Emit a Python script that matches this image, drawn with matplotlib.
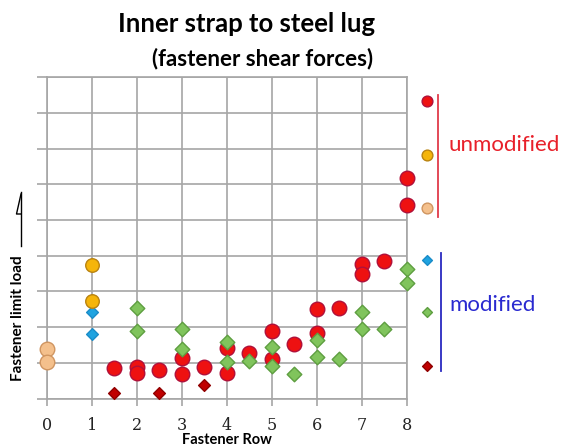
import matplotlib
matplotlib.use("Agg")
import matplotlib.pyplot as plt
from matplotlib.lines import Line2D

# unmodified
red_x = [1.5, 2, 2, 2.5, 3, 3, 3.5, 4, 4, 4.5, 5, 5, 5.5, 6, 6, 6.5, 7, 7, 7.5, 8, 8]
red_y = [0.85, 0.89, 0.72, 0.81, 1.13, 0.69, 0.89, 1.41, 0.72, 1.27, 1.89, 1.10,
         1.53, 2.51, 1.83, 2.53, 3.76, 3.48, 3.86, 6.18, 5.42]
orange_x = [1, 1]
orange_y = [3.75, 2.73]
peach_x = [0, 0]
peach_y = [1.38, 1.01]

# modified
blue_x = [1, 1]
blue_y = [2.41, 1.81]
green_x = [2, 2, 3, 3, 4, 4, 4.5, 5, 5, 5.5, 6, 6, 6.5, 7, 7, 7.5, 8, 8]
green_y = [2.53, 1.90, 1.95, 1.38, 1.59, 1.01, 1.05, 1.45, 0.91, 0.69, 1.64, 1.17,
           1.10, 2.43, 1.94, 1.96, 3.62, 3.23]
dred_x = [1.5, 2.5, 3.5]
dred_y = [0.16, 0.16, 0.38]

rows = [0, 1, 2, 3, 4, 5, 6, 7, 8]

W, H = 570, 447
fig = plt.figure(figsize=(W / 100, H / 100), dpi=100)
ax = fig.add_axes([46.7 / W, 1 - 398.5 / H, 360 / W, 321.2 / H])

grey = "#a6a6a6"
ax.set_xlim(0, 8)
ax.set_ylim(0, 9)
ax.set_xticks(rows)
ax.set_yticks(range(10))
ax.set_yticklabels([])
ax.grid(True, color=grey, lw=1.2)
ax.set_axisbelow(True)
for s in ax.spines.values():
    s.set_color(grey)
    s.set_linewidth(1.2)
ax.tick_params(axis="y", length=7, color=grey, width=1.2)
ax.tick_params(axis="x", length=5, color=grey, width=1.2, pad=8,
               labelsize=11.5, labelcolor="#222222")
for lab in ax.get_xticklabels():
    lab.set_family("DejaVu Serif")

kw = dict(clip_on=False, zorder=3, linewidths=1)
ax.scatter(red_x, red_y, s=110, marker="o", c="#ee1111", edgecolors="#b0103a", **kw)
ax.scatter(green_x, green_y, s=55, marker="D", c="#80c45c", edgecolors="#5e9e40", **kw)
ax.scatter(blue_x, blue_y, s=36, marker="D", c="#1fa3e0", edgecolors="#1a8cc8", **kw)
ax.scatter(dred_x, dred_y, s=36, marker="D", c="#c00000", edgecolors="#900000", **kw)
ax.scatter(orange_x, orange_y, s=95, marker="o", c="#f5b50a", edgecolors="#b98310", **kw)
ax.scatter(peach_x, peach_y, s=110, marker="o", c="#f4c08c", edgecolors="#d09560", **kw)

# key column on the right
key_x = 8.45
ax.scatter([key_x], [8.33], s=60, marker="o", c="#ee1111", edgecolors="#b0103a", **kw)
ax.scatter([key_x], [6.82], s=60, marker="o", c="#f5b50a", edgecolors="#b98310", **kw)
ax.scatter([key_x], [5.34], s=60, marker="o", c="#f4c08c", edgecolors="#d09560", **kw)
ax.scatter([key_x], [3.89], s=25, marker="D", c="#1fa3e0", edgecolors="#1a8cc8", **kw)
ax.scatter([key_x], [2.41], s=25, marker="D", c="#80c45c", edgecolors="#5e9e40", **kw)
ax.scatter([key_x], [0.91], s=25, marker="D", c="#c00000", edgecolors="#900000", **kw)
ax.plot([8.70, 8.70], [8.50, 5.08], color="#e03a4a", lw=1.3, clip_on=False)
ax.plot([8.76, 8.76], [4.07, 0.77], color="#2a2ac0", lw=1.3, clip_on=False)
ax.text(8.94, 7.10, "unmodified", color="#e8202a", fontsize=16,
        family="Lato", va="center", ha="left")
ax.text(8.94, 2.62, "modified", color="#2a2ad0", fontsize=16,
        family="Lato", va="center", ha="left")

fig.text(247 / W, 1 - 24 / H, "Inner strap to steel lug", ha="center", va="center",
         fontsize=18.5, fontweight="bold", family="Lato")
fig.text(263 / W, 1 - 59 / H, "(fastener shear forces)", ha="center", va="center",
         fontsize=16, fontweight="bold", family="Lato")
fig.text(18 / W, 1 - 318 / H, "Fastener limit load", rotation=90, ha="center",
         va="center", fontsize=11, fontweight="bold", family="Lato")
fig.text(227 / W, 1 - 440 / H, "Fastener Row", ha="center", va="center",
         fontsize=10.5, fontweight="bold", family="Lato")

# arrow next to the y label
tr = fig.dpi_scale_trans
fig.add_artist(Line2D([21 / 100, 21 / 100], [(H - 192) / 100, (H - 246) / 100],
                      color="black", lw=1, transform=tr))
fig.add_artist(Line2D([21 / 100, 16.5 / 100, 21 / 100],
                      [(H - 194) / 100, (H - 214) / 100, (H - 214) / 100],
                      color="black", lw=1, transform=tr))

fig.savefig("out.png", dpi=100)
